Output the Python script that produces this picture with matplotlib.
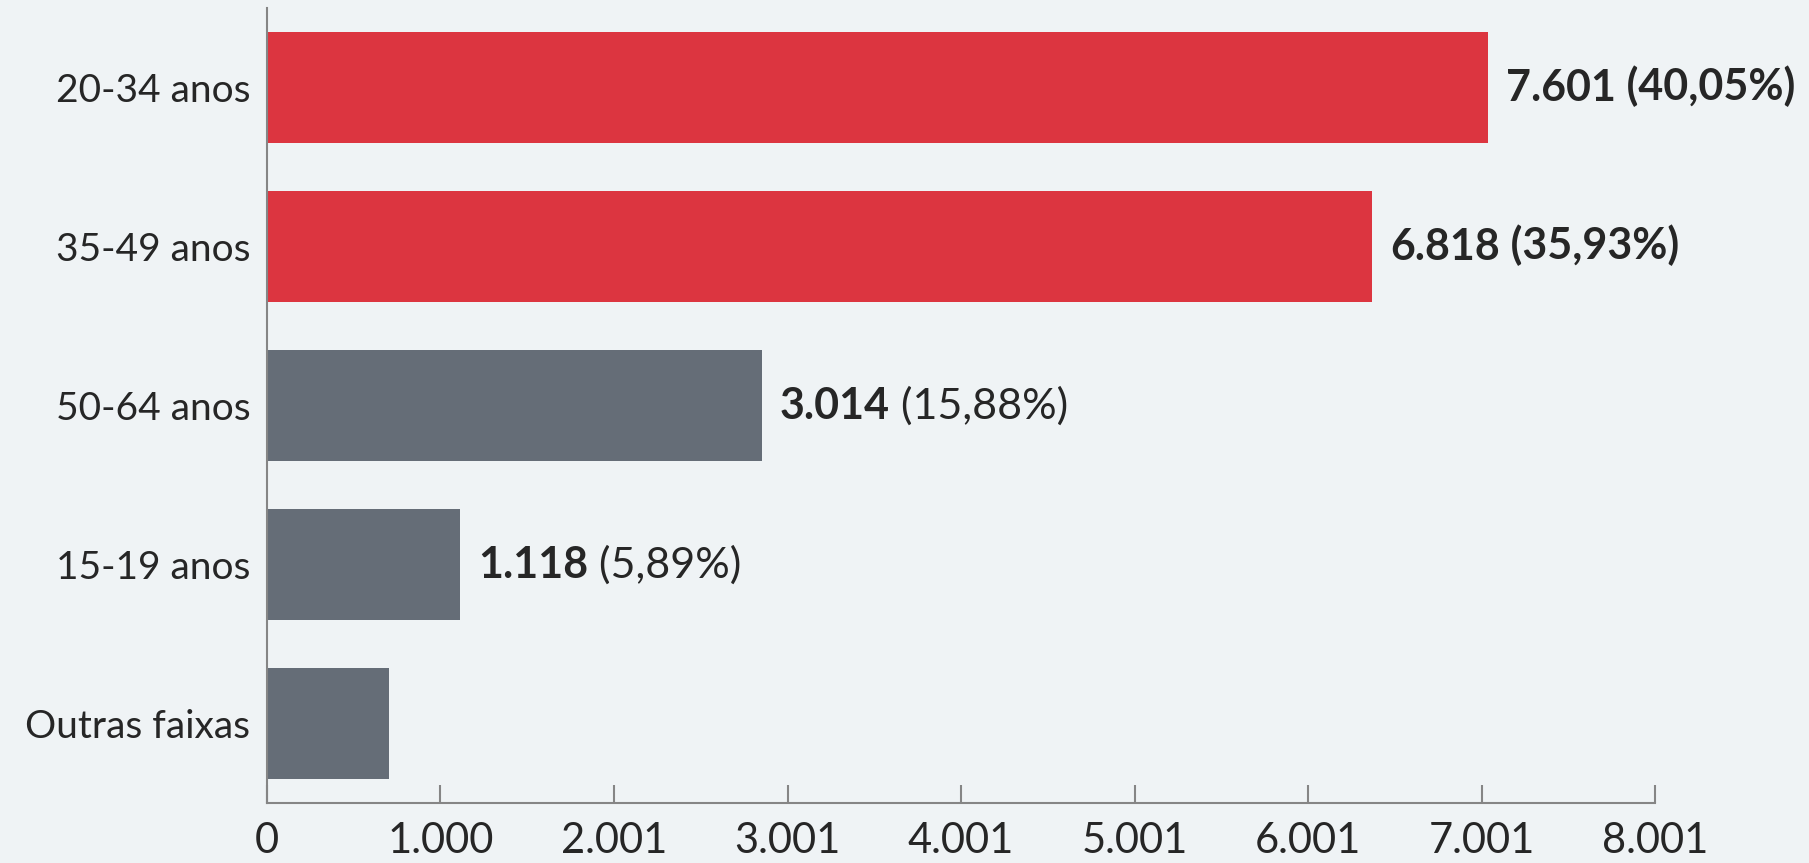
#!/usr/bin/env python3
"""Horizontal bar chart: distribution by age group (faixa etária)."""

import matplotlib
matplotlib.use("Agg")
import matplotlib.pyplot as plt

# Data (bar lengths as drawn on the axis scale).
CATEGORIES = ["20-34 anos", "35-49 anos", "50-64 anos", "15-19 anos", "Outras faixas"]
BAR_LENGTHS = [7040, 6369, 2853, 1112, 703]
COUNTS = [7601, 6818, 3014, 1118, None]
PERCENTS = ["40,05%", "35,93%", "15,88%", "5,89%", None]
HIGHLIGHTED = [True, True, False, False, False]
TICK_VALUES = [0, 1000, 2001, 3001, 4001, 5001, 6001, 7001, 8001]
TICK_LABELS = ["0", "1.000", "2.001", "3.001", "4.001", "5.001", "6.001", "7.001", "8.001"]

BG = "#eff3f5"
RED = "#dc3540"
GRAY = "#656d77"
TEXT = "#262626"
AXIS = "#858585"


def fmt_count(n: int) -> str:
    return f"{n:,}".replace(",", ".")


def main() -> None:
    plt.rcParams["font.family"] = ["Lato", "DejaVu Sans"]

    fig = plt.figure(figsize=(18.09, 8.63), dpi=100, facecolor=BG)
    ax = fig.add_axes([0.1476, 0.0695, 0.9149 - 0.1476, 0.9907 - 0.0695])
    ax.set_facecolor(BG)

    ypos = list(range(len(CATEGORIES)))
    colors = [RED if h else GRAY for h in HIGHLIGHTED]
    ax.barh(ypos, BAR_LENGTHS, height=0.70, color=colors, linewidth=0)

    ax.set_xlim(0, TICK_VALUES[-1])
    ax.set_ylim(len(CATEGORIES) - 0.5, -0.5)

    ax.set_xticks(TICK_VALUES)
    ax.set_xticklabels(TICK_LABELS)
    ax.set_yticks(ypos)
    ax.set_yticklabels(CATEGORIES)
    ax.tick_params(axis="x", direction="in", length=13, width=1.5, color=AXIS,
                   labelsize=30, labelcolor=TEXT, pad=14)
    ax.tick_params(axis="y", length=0, labelsize=28, labelcolor=TEXT, pad=12)

    for side in ("top", "right"):
        ax.spines[side].set_visible(False)
    for side in ("left", "bottom"):
        ax.spines[side].set_color(AXIS)
        ax.spines[side].set_linewidth(1.5)

    # Value labels: bold count, percentage regular (all bold on highlighted bars).
    for y, length, n, pct, hl in zip(ypos, BAR_LENGTHS, COUNTS, PERCENTS, HIGHLIGHTED):
        if n is None:
            continue
        t1 = ax.annotate(fmt_count(n), xy=(length, y), xytext=(13, 0),
                         textcoords="offset points", va="center", ha="left",
                         fontsize=31, fontweight="bold", color=TEXT)
        ax.annotate(f" ({pct})", xy=(1, 0), xycoords=t1, va="bottom", ha="left",
                    fontsize=31, fontweight="bold" if hl else "normal", color=TEXT)

    fig.savefig("out.png", dpi=100, facecolor=BG)


if __name__ == "__main__":
    main()
